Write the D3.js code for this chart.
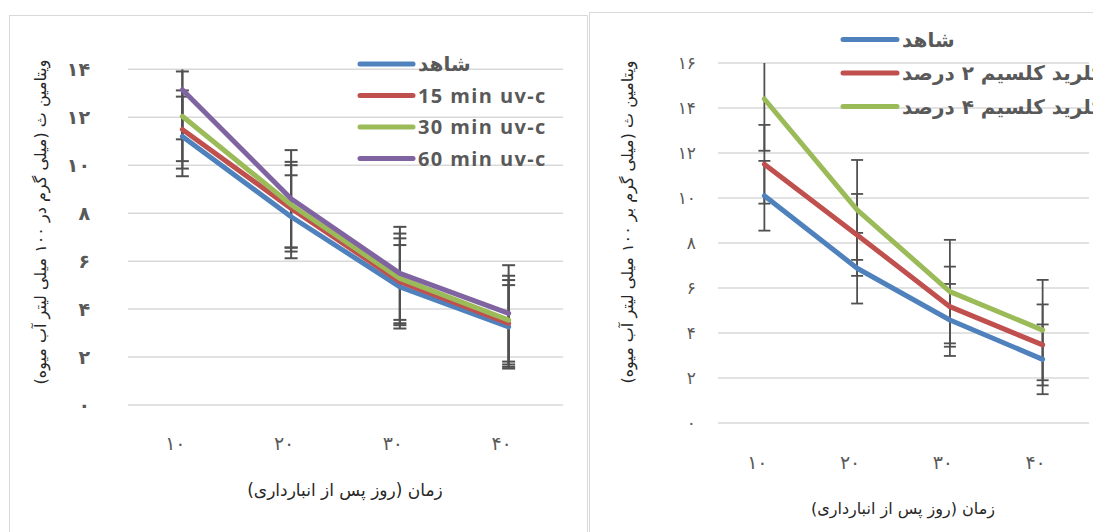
<!DOCTYPE html>
<html>
<head>
<meta charset="utf-8">
<script src="https://cdn.jsdelivr.net/npm/d3@7"></script>
<style>
  body { margin: 0; background: #fff; }
</style>
</head>
<body>
<div id="chart"></div>
<script>
/* Storage days (x categories) */
const days = ["۱۰", "۲۰", "۳۰", "۴۰"];

/* Left chart: UV-C treatments */
const uvNames = ["شاهد", "15 min uv-c", "30 min uv-c", "60 min uv-c"];
const uvControl = [11.2, 7.85, 4.93, 3.26];
const uv15 = [11.49, 8.2, 5.14, 3.40];
const uv30 = [12.04, 8.35, 5.28, 3.54];
const uv60 = [13.15, 8.6, 5.49, 3.82];
const uvControlErr = [1.66, 1.73, 1.74, 1.74];
const uv15Err = [1.63, 1.8, 1.81, 1.81];
const uv30Err = [1.87, 1.79, 1.87, 1.85];
const uv60Err = [2.07, 2.03, 1.94, 2.01];
const uvTicks = [0, 2, 4, 6, 8, 10, 12, 14];

/* Right chart: calcium chloride treatments */
const caNames = ["شاهد", "کلرید کلسیم ۲ درصد", "کلرید کلسیم ۴ درصد"];
const caControl = [10.1, 6.88, 4.58, 2.83];
const ca2 = [11.5, 8.36, 5.17, 3.47];
const ca4 = [14.4, 9.47, 5.84, 4.13];
const caControlErr = [1.55, 1.57, 1.6, 1.55];
const ca2Err = [1.75, 1.82, 1.78, 1.8];
const ca4Err = [2.3, 2.22, 2.3, 2.23];
const caTicks = [0, 2, 4, 6, 8, 10, 12, 14, 16];

const colors = ["#4F81BD", "#C0504D", "#9BBB59", "#8064A2"];
const xTitle = "زمان (روز پس از انبارداری)";

/* Persian digits for the value axis */
const fa = n => String(n).replace(/\d/g, c => "۰۱۲۳۴۵۶۷۸۹"[+c]);

const width = 1093, height = 532;
const svg = d3.select("#chart")
  .append("svg")
  .attr("width", width)
  .attr("height", height);

const drawPanel = (p) => {
  const g = svg.append("g");

  /* panel border */
  g.append("rect")
    .attr("x", p.box[0] + 0.5).attr("y", p.box[1] + 0.5)
    .attr("width", p.box[2]).attr("height", p.box[3])
    .attr("fill", "#fff")
    .attr("stroke", "#D9D9D9");

  const x = d3.scalePoint()
    .domain(days)
    .range([p.plotX[0], p.plotX[1]])
    .padding(0.5);

  const y = d3.scaleLinear()
    .domain([0, d3.max(p.ticks)])
    .range([p.plotY[1], p.plotY[0]]);

  /* gridlines */
  g.append("g")
    .selectAll("line")
    .data(p.ticks)
    .join("line")
      .attr("x1", p.plotX[0]).attr("x2", p.plotX[1])
      .attr("y1", d => y(d)).attr("y2", d => y(d))
      .attr("stroke", "#D9D9D9")
      .attr("stroke-width", 1.5);

  /* y tick labels */
  g.append("g")
    .selectAll("text")
    .data(p.ticks)
    .join("text")
      .attr("x", p.yLabelX)
      .attr("y", d => y(d))
      .attr("dy", "0.35em")
      .attr("text-anchor", "end")
      .attr("font-family", "DejaVu Sans")
      .attr("font-size", p.yLabelSize)
      .attr("font-weight", p.yLabelWeight)
      .attr("letter-spacing", p.yLabelSpacing)
      .attr("fill", "#595959")
      .text(d => fa(d));

  /* x tick labels */
  g.append("g")
    .selectAll("text")
    .data(days)
    .join("text")
      .attr("x", d => x(d) - 7)
      .attr("y", p.xLabelY)
      .attr("text-anchor", "middle")
      .attr("font-family", "DejaVu Sans")
      .attr("font-size", 19)
      .attr("fill", "#595959")
      .text(d => d);

  const yMax = d3.max(p.ticks);

  /* error bars, drawn under the lines */
  p.series.forEach((s, i) => {
    const bars = days.map((d, j) => ({
      x: x(d),
      lo: s.values[j] - s.err[j],
      hi: s.values[j] + s.err[j]
    }));
    const eg = g.append("g")
      .attr("stroke", "#505050")
      .attr("stroke-width", p.errWidth);
    eg.selectAll("line.v")
      .data(bars)
      .join("line")
        .attr("class", "v")
        .attr("x1", d => d.x).attr("x2", d => d.x)
        .attr("y1", d => y(Math.max(0, d.lo)))
        .attr("y2", d => y(Math.min(yMax, d.hi)));
    eg.selectAll("line.lo")
      .data(bars)
      .join("line")
        .attr("class", "lo")
        .attr("x1", d => d.x - p.capHalf).attr("x2", d => d.x + p.capHalf)
        .attr("y1", d => y(d.lo)).attr("y2", d => y(d.lo));
    eg.selectAll("line.hi")
      .data(bars.filter(d => d.hi <= yMax))
      .join("line")
        .attr("class", "hi")
        .attr("x1", d => d.x - p.capHalf).attr("x2", d => d.x + p.capHalf)
        .attr("y1", d => y(d.hi)).attr("y2", d => y(d.hi));
  });

  /* series lines */
  const line = d3.line()
    .x((d, j) => x(days[j]))
    .y(d => y(d));

  g.append("g")
    .selectAll("path")
    .data(p.series)
    .join("path")
      .attr("d", d => line(d.values))
      .attr("fill", "none")
      .attr("stroke", (d, i) => colors[i])
      .attr("stroke-width", 5)
      .attr("stroke-linejoin", "round")
      .attr("stroke-linecap", "round");

  /* legend */
  const lg = g.append("g")
    .selectAll("g")
    .data(p.series)
    .join("g")
      .attr("transform", (d, i) => `translate(${p.legend.x},${p.legend.y + i * p.legend.step})`);

  lg.append("line")
    .attr("x1", 0).attr("x2", p.legend.len)
    .attr("stroke", (d, i) => colors[i])
    .attr("stroke-width", 5)
    .attr("stroke-linecap", "round");

  lg.append("text")
    .attr("x", p.legend.len + 5)
    .attr("dy", "0.35em")
    .attr("font-family", d => /[a-z]/.test(d.name) ? "Open Sans" : "DejaVu Sans")
    .attr("letter-spacing", d => /[a-z]/.test(d.name) ? 1.4 : 0)
    .attr("font-size", 20)
    .attr("font-weight", "bold")
    .attr("fill", "#595959")
    .text(d => d.name);

  /* axis titles */
  g.append("text")
    .attr("x", p.xTitle[0])
    .attr("y", p.xTitle[1])
    .attr("text-anchor", "middle")
    .attr("direction", "rtl")
    .attr("font-family", "DejaVu Sans")
    .attr("font-size", p.xTitleSize)
    .attr("fill", "#262626")
    .text(xTitle);

  g.append("text")
    .attr("transform", `translate(${p.yTitle[0]},${p.yTitle[1]}) rotate(-90)`)
    .attr("text-anchor", "middle")
    .attr("direction", "rtl")
    .attr("font-family", "DejaVu Sans")
    .attr("font-size", 16)
    .attr("fill", "#262626")
    .text(p.yTitleText);
};

/* Left panel */
drawPanel({
  box: [9, 15, 578, 530],
  plotX: [128, 563],
  plotY: [69.3, 405],
  ticks: uvTicks,
  yLabelX: 90, yLabelSize: 19, yLabelWeight: "bold", yLabelSpacing: 0,
  xLabelY: 450,
  errWidth: 2, capHalf: 6.5,
  series: [
    { name: uvNames[0], values: uvControl, err: uvControlErr },
    { name: uvNames[1], values: uv15, err: uv15Err },
    { name: uvNames[2], values: uv30, err: uv30Err },
    { name: uvNames[3], values: uv60, err: uv60Err }
  ],
  legend: { x: 360, y: 64, step: 31.5, len: 53 },
  xTitle: [345, 496], xTitleSize: 17,
  yTitle: [46, 222],
  yTitleText: "ویتامین ث (میلی گرم در ۱۰۰ میلی لیتر آب میوه)"
});

/* Right panel */
drawPanel({
  box: [589, 12, 520, 530],
  plotX: [718, 1089],
  plotY: [63, 423],
  ticks: caTicks,
  yLabelX: 696, yLabelSize: 17, yLabelWeight: "normal", yLabelSpacing: 5,
  xLabelY: 469,
  errWidth: 1.8, capHalf: 6,
  series: [
    { name: caNames[0], values: caControl, err: caControlErr },
    { name: caNames[1], values: ca2, err: ca2Err },
    { name: caNames[2], values: ca4, err: ca4Err }
  ],
  legend: { x: 843, y: 39.5, step: 33.5, len: 54 },
  xTitle: [903, 514], xTitleSize: 16,
  yTitle: [633, 222],
  yTitleText: "ویتامین ث (میلی گرم بر ۱۰۰ میلی لیتر آب میوه)"
});
</script>
</body>
</html>
